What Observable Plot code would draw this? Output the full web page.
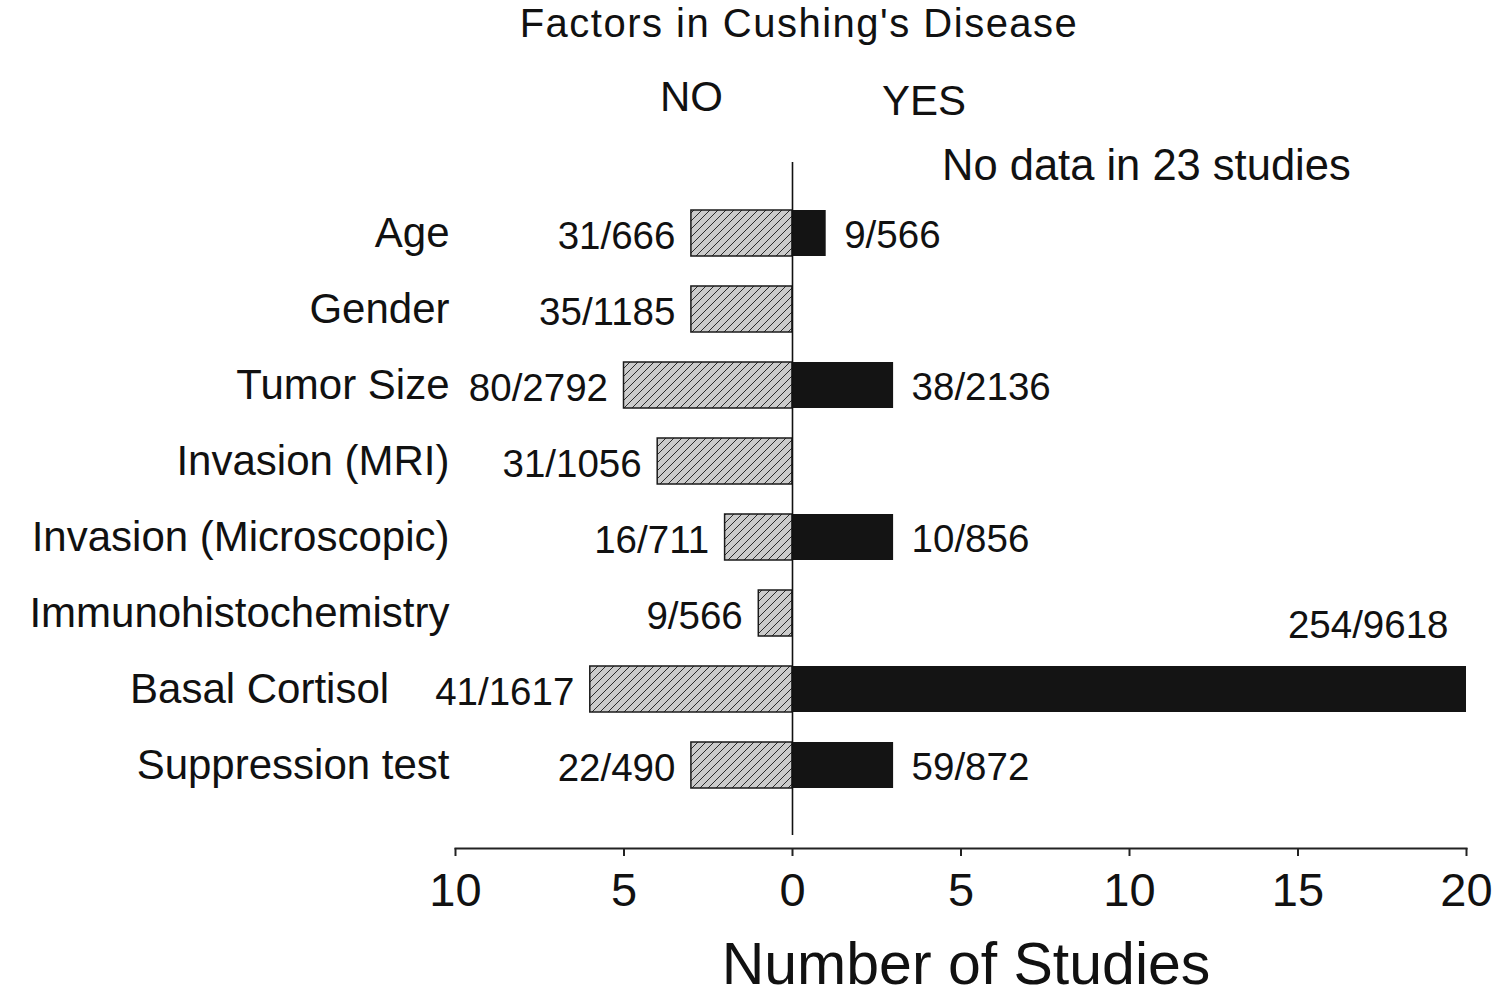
<!DOCTYPE html>
<html><head><meta charset="utf-8">
<script src="https://cdn.jsdelivr.net/npm/d3@7"></script>
<script src="https://cdn.jsdelivr.net/npm/@observablehq/plot@0.6"></script>
<style>
body{margin:0;background:#fff;font-family:"Liberation Sans",Arial,sans-serif;color:#111;overflow:hidden;}
#title{box-sizing:border-box;width:1494px;height:48px;padding-left:104px;text-align:center;font-size:40px;line-height:46px;letter-spacing:1.5px;}
</style></head><body>
<div id="title">Factors in Cushing's Disease</div>
<div id="chart"></div>
<script>
const categories = ["Age","Gender","Tumor Size","Invasion (MRI)","Invasion (Microscopic)","Immunohistochemistry","Basal Cortisol","Suppression test"];
const noStudies = [3,3,5,4,2,1,6,3];
const yesStudies = [1,0,3,0,3,0,20,3];
const noLabels = ["31/666","35/1185","80/2792","31/1056","16/711","9/566","41/1617","22/490"];
const yesLabels = ["9/566","","38/2136","","10/856","","254/9618","59/872"];
const xTicks = [-10,-5,0,5,10,15,20];
const headerNo = "NO";
const headerYes = "YES";
const noDataNote = "No data in 23 studies";
const xTitle = "Number of Studies";

const rows = categories.map((c,i)=>({category:c, no:-noStudies[i], yes:yesStudies[i], noLabel:noLabels[i], yesLabel:yesLabels[i]}));
const xMax = d3.max(xTicks);

const hatchDefs = () => {
  const ns = "http://www.w3.org/2000/svg";
  const defs = document.createElementNS(ns,"defs");
  defs.innerHTML = `<pattern id="hatch" patternUnits="userSpaceOnUse" width="8" height="8">
    <rect width="8" height="8" fill="#cbcbcb"/>
    <path d="M-2,2 L2,-2 M0,8 L8,0 M6,10 L10,6" stroke="#2a2a2a" stroke-width="1"/>
  </pattern>`;
  return defs;
};

const chart = Plot.plot({
  width: 1494,
  height: 946,
  marginLeft: 455,
  marginRight: 28,
  marginTop: 114,
  marginBottom: 146,
  insetTop: 16,
  insetBottom: 28.5,
  style: {fontFamily: "'Liberation Sans', Arial, sans-serif", color: "#111", background: "#fff", overflow: "visible"},
  x: {domain: [-10, 20], axis: null},
  y: {domain: categories, padding: 0.4, axis: null},
  marks: [
    hatchDefs,
    Plot.barX(rows, {y: "category", x1: 0, x2: "no", fill: "url(#hatch)", stroke: "#1a1a1a", strokeWidth: 1.5}),
    Plot.barX(rows.filter(d => d.yes > 0), {y: "category", x1: 0, x2: "yes", fill: "#141414"}),
    Plot.ruleX([0], {stroke: "#111", strokeWidth: 1.6, insetBottom: 13}),
    Plot.frame({anchor: "bottom", stroke: "#222", strokeWidth: 2}),
    Plot.axisX(xTicks, {tickFormat: d => Math.abs(d), tickSize: 8, tickPadding: 16, fontSize: 47, label: null, stroke: "#222", strokeWidth: 2}),
    Plot.axisY({tickSize: 0, tickPadding: 6, fontSize: 42, label: null}),
    Plot.text(rows, {y: "category", x: "no", text: "noLabel", textAnchor: "end", dx: -16, dy: 3, fontSize: 38.5}),
    Plot.text(rows.filter(d => d.yes > 0 && d.yes < 0.75 * xMax), {y: "category", x: "yes", text: "yesLabel", textAnchor: "start", dx: 18, dy: 2, fontSize: 38.5}),
    Plot.text(rows.filter(d => d.yes >= 0.75 * xMax), {y: "category", x: "yes", text: "yesLabel", textAnchor: "end", dx: -18, dy: -64, fontSize: 38.5}),
    Plot.text([headerNo], {x: -3, frameAnchor: "top", dy: -81, fontSize: 42}),
    Plot.text([headerYes], {x: 3.9, frameAnchor: "top", dy: -77, fontSize: 42}),
    Plot.text([noDataNote], {x: 10.5, frameAnchor: "top", dy: -13, fontSize: 43.5}),
    Plot.text([xTitle], {frameAnchor: "bottom", dx: 5, dy: 135, fontSize: 59})
  ]
});
document.getElementById("chart").append(chart);

// keep category labels clear of the NO value label in the same row
const allTexts = Array.from(chart.querySelectorAll("text"));
const center = r => (r.top + r.bottom) / 2;
categories.forEach((c, i) => {
  const t = allTexts.find(e => e.textContent === c);
  if (!t) return;
  const a = t.getBoundingClientRect();
  const v = allTexts.find(e => e !== t && e.textContent === noLabels[i] && Math.abs(center(e.getBoundingClientRect()) - center(a)) < 25);
  if (!v) return;
  const b = v.getBoundingClientRect();
  if (a.right > b.left - 14) {
    const shift = a.right - (b.left - 46);
    t.setAttribute("transform", `translate(${-shift},0) ` + (t.getAttribute("transform") || ""));
  }
});
</script>
</body></html>
